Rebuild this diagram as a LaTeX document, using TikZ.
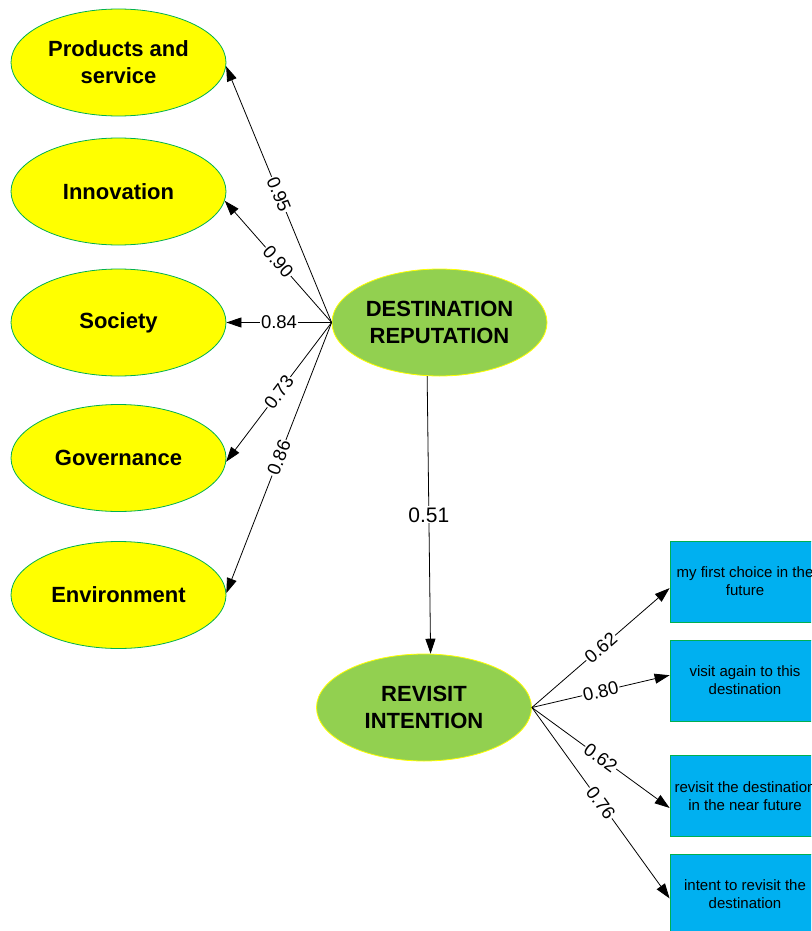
\documentclass[tikz,border=0pt]{standalone}
\usepackage{fontspec}
\setmainfont{Liberation Sans}
\usetikzlibrary{shapes.geometric,arrows.meta}

\definecolor{dimfill}{HTML}{FFFF00}
\definecolor{dimline}{HTML}{00B050}
\definecolor{confill}{HTML}{92D050}
\definecolor{conline}{HTML}{FFFF00}
\definecolor{itemfill}{HTML}{00B0F0}
\definecolor{itemline}{HTML}{00B050}

\begin{document}
\begin{tikzpicture}[x=1pt,y=-1pt,
  dim/.style={shape=ellipse, draw=dimline, fill=dimfill, line width=0.8pt, inner sep=0pt,
    minimum width=215pt, minimum height=107pt, align=center,
    font=\fontsize{22}{27}\selectfont\bfseries},
  construct/.style={dim, draw=conline, fill=confill},
  item/.style={shape=rectangle, draw=itemline, fill=itemfill, line width=0.8pt, inner sep=0pt,
    minimum width=150pt, minimum height=81pt, align=center,
    font=\fontsize{15}{18}\selectfont},
  load/.style={-{Triangle[length=15pt,width=10pt]}, line width=0.8pt},
  weight/.style={fill=white, inner sep=1pt, font=\fontsize{18.5}{19}\selectfont},
  tilted/.style={weight, sloped}]
%%%%%%%%%%%%%%%%%%%%%%%%%%%%%%%%%%%%%%%%%%% HELP LINES
%\draw[help lines] (0,0) grid[step=50] (811,931);
\clip (0,0) rectangle (811,931);

%%%%%%%%%%%%%%%%%%%%%%%%%%%%%%%%%%%%%%%%%%% dimensions
\node[dim](prod) at (118.5,62.5){Products and\\service};
\node[dim](innov) at (118.5,191.5){Innovation};
\node[dim](soc) at (118.5,322.5){Society};
\node[dim](gov) at (118.5,458){Governance};
\node[dim](env) at (118.5,595){Environment};

%%%%% constructs
\node[construct](destrep) at (439.5,322.5){DESTINATION\\REPUTATION};
\node[construct](revisit) at (424,707.5){REVISIT\\INTENTION};

%%%%% items
\node[item](q1) at (745,581.5){my first choice in the\\future};
\node[item](q2) at (745,680.5){visit again to this\\destination};
\node[item](q3) at (745,796){revisit the destination\\in the near future};
\node[item](q4) at (745,894.5){intent to revisit the\\destination};

%%%%%%%%%%%%%%%%%%%%%%%%%%%%%%%%%%%%%%%%%%% loadings
\draw[load] (destrep.west) -- node[tilted]{0.95} (prod.-2);
\draw[load] (destrep.west) -- node[tilted]{0.90} (innov.-5);
\draw[load] (destrep.west) -- node[tilted]{0.84} (soc.east);
\draw[load] (destrep.west) -- node[tilted]{0.73} (gov.-2);
\draw[load] (destrep.west) -- node[tilted]{0.86} (env.1);

%%%%% path
\draw[load] (destrep.257) -- node[weight, font=\fontsize{21}{21}\selectfont]{0.51} (revisit.83);

%%%%% items
\draw[load] (revisit.east) -- node[tilted]{0.62} (q1.185);
\draw[load] (revisit.east) -- node[tilted]{0.80} (q2.176);
\draw[load] (revisit.east) -- node[tilted]{0.62} (q3.189);
\draw[load] (revisit.east) -- node[tilted]{0.76} (q4.183);
\end{tikzpicture}
\end{document}
